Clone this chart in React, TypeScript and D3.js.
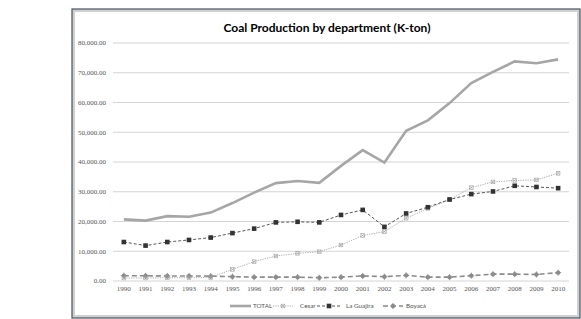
import React from "react";
import * as d3 from "d3";

const years = ["1990","1991","1992","1993","1994","1995","1996","1997","1998","1999","2000","2001","2002","2003","2004","2005","2006","2007","2008","2009","2010"];
const total = [20700,20300,21800,21600,23000,26200,29700,32900,33600,33000,38700,44000,39800,50500,54000,59800,66500,70300,73800,73200,74500];
const cesar = [1000,1000,1100,1100,1200,3900,6500,8400,9300,9850,12100,15300,16600,21100,24400,27300,31400,33300,33800,34000,36200];
const guajira = [13100,11900,13100,13800,14600,16100,17600,19700,19900,19700,22200,23900,18200,22700,24800,27400,29200,30100,32000,31600,31200];
const boyaca = [1800,1750,1700,1700,1650,1450,1300,1300,1300,1100,1300,1700,1450,1900,1300,1300,1800,2300,2300,2200,2800];
const yTicks = [0,10000,20000,30000,40000,50000,60000,70000,80000];
const title = "Coal Production by department (K-ton)";

const W = 581, H = 319;
const plotL = 113, plotR = 569, plotT = 43, plotB = 281;

export default function App() {
  const x = d3.scaleBand<string>().domain(years).range([plotL, plotR]);
  const cx = (d: string) => (x(d) as number) + x.bandwidth() / 2;
  const y = d3.scaleLinear().domain([0, 80000]).range([plotB, plotT]);
  const line = d3.line<number>().x((_, i) => cx(years[i])).y((v) => y(v));
  const fmt = d3.format(",.2f");

  const squareMarker = (px: number, py: number, k: string) => (
    <rect key={k} x={px - 2.3} y={py - 2.3} width={4.6} height={4.6} fill="#333" />
  );
  const xMarker = (px: number, py: number, k: string) => (
    <g key={k} stroke="#a0a0a0" strokeWidth={0.6} fill="none">
      <rect x={px - 1.8} y={py - 1.8} width={3.6} height={3.6} />
      <line x1={px - 1.8} y1={py - 1.8} x2={px + 1.8} y2={py + 1.8} />
      <line x1={px - 1.8} y1={py + 1.8} x2={px + 1.8} y2={py - 1.8} />
    </g>
  );
  const boyMarker = (px: number, py: number, k: string) => (
    <g key={k}>
      <circle cx={px} cy={py} r={2.2} fill="#8c8c8c" />
      <line x1={px - 3} y1={py} x2={px + 3} y2={py} stroke="#8c8c8c" strokeWidth={1} />
      <line x1={px} y1={py - 3} x2={px} y2={py + 3} stroke="#8c8c8c" strokeWidth={1} />
    </g>
  );

  const legendY = 306;
  return (
    <svg width={W} height={H} style={{ position: "absolute", left: 0, top: 0, background: "#fff" }}>
      <rect x={73.5} y={10.5} width={505} height={306} fill="#fff" stroke="#d0d0d0" strokeWidth={3} />
      <rect x={72} y={9} width={508} height={309} fill="none" stroke="#4a5360" strokeWidth={1.2} />
      <text x={327} y={32} textAnchor="middle" fontFamily="Lato, 'Open Sans', sans-serif" fontWeight="bold" fontSize={12} fill="#000">{title}</text>
      {yTicks.map((t) => (
        <g key={t}>
          <line x1={plotL} x2={plotR} y1={y(t)} y2={y(t)} stroke="#d4d4d4" strokeWidth={1} />
          <text x={106} y={y(t) + 2.4} textAnchor="end" fontFamily="'Liberation Serif', serif" fontSize={7} fill="#555">{fmt(t)}</text>
        </g>
      ))}
      {years.map((yr) => (
        <text key={yr} x={cx(yr)} y={291} textAnchor="middle" fontFamily="'Liberation Serif', serif" fontSize={7} fill="#555">{yr}</text>
      ))}
      <path d={line(boyaca) || ""} fill="none" stroke="#8c8c8c" strokeWidth={1.6} strokeDasharray="5,3" />
      {boyaca.map((v, i) => boyMarker(cx(years[i]), y(v), "b" + i))}
      <path d={line(cesar) || ""} fill="none" stroke="#a0a0a0" strokeWidth={0.9} strokeDasharray="1.2,1.2" />
      {cesar.map((v, i) => xMarker(cx(years[i]), y(v), "c" + i))}
      <path d={line(guajira) || ""} fill="none" stroke="#444" strokeWidth={0.9} strokeDasharray="3,2" />
      {guajira.map((v, i) => squareMarker(cx(years[i]), y(v), "g" + i))}
      <path d={line(total) || ""} fill="none" stroke="#a6a6a6" strokeWidth={2.6} />
      <g fontFamily="Lato, 'Open Sans', sans-serif" fontSize={6.3} fill="#555">
        <line x1={230} x2={251} y1={legendY} y2={legendY} stroke="#a6a6a6" strokeWidth={2.6} />
        <text x={253} y={legendY + 2.2}>TOTAL</text>
        <line x1={273} x2={293} y1={legendY} y2={legendY} stroke="#a0a0a0" strokeWidth={0.9} strokeDasharray="1.2,1.2" />
        {xMarker(283, legendY, "lc")}
        <text x={300} y={legendY + 2.2}>Cesar</text>
        <line x1={317} x2={340} y1={legendY} y2={legendY} stroke="#444" strokeWidth={0.9} strokeDasharray="3,2" />
        {squareMarker(329, legendY, "lg")}
        <text x={346} y={legendY + 2.2}>La Guajira</text>
        <line x1={383} x2={403} y1={legendY} y2={legendY} stroke="#8c8c8c" strokeWidth={1.6} strokeDasharray="5,3" />
        {boyMarker(393, legendY, "lb")}
        <text x={406} y={legendY + 2.2}>Boyacá</text>
      </g>
    </svg>
  );
}
